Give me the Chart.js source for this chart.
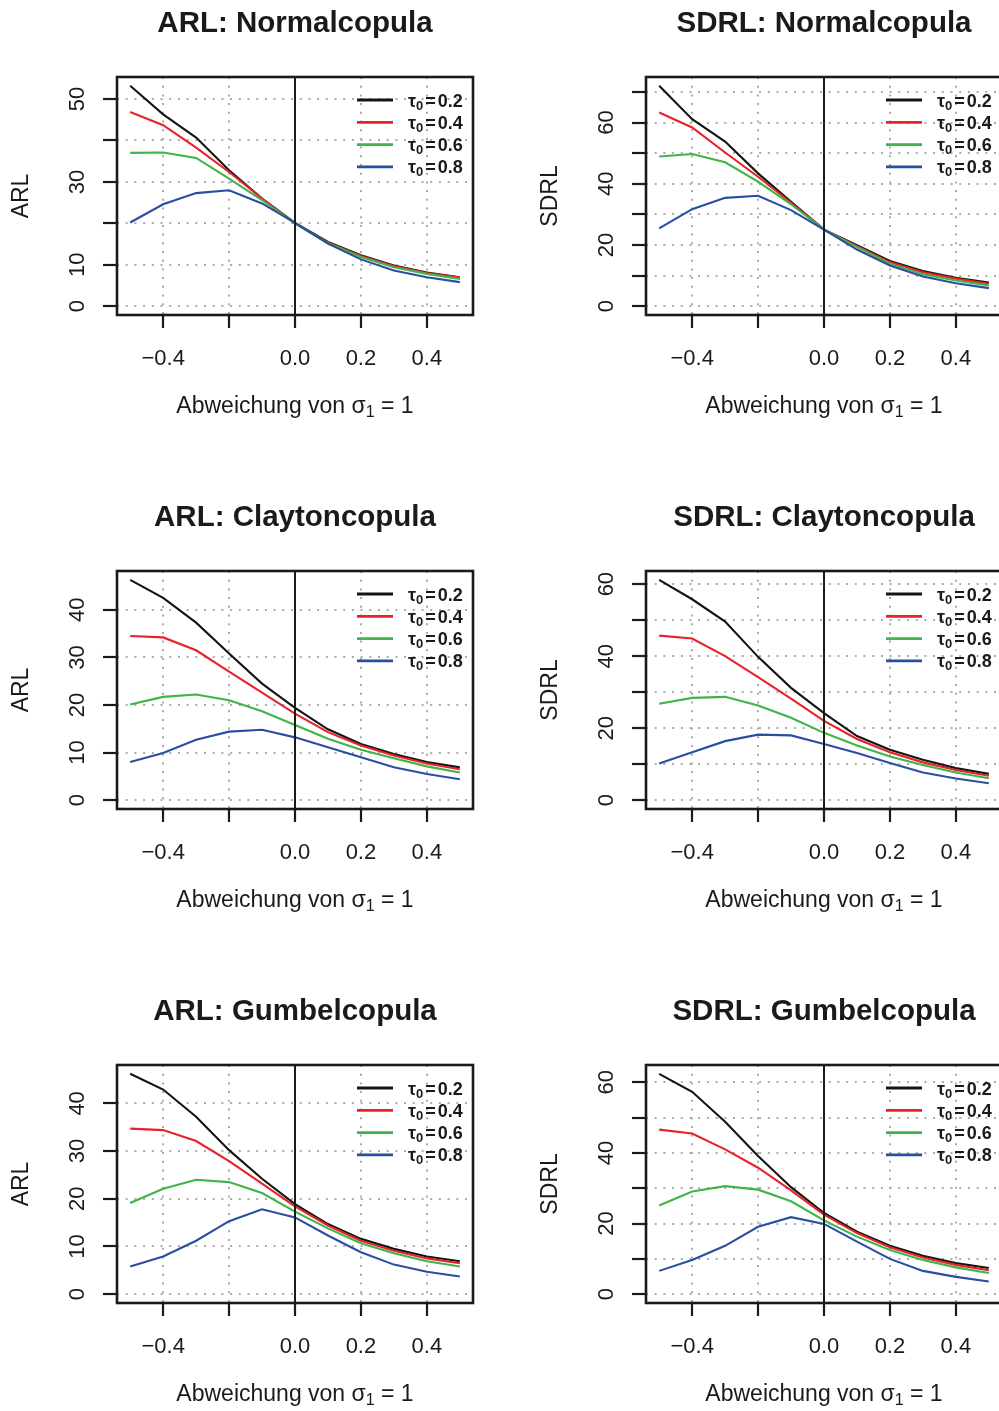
<!DOCTYPE html>
<html>
<head>
<meta charset="utf-8">
<script src="https://cdn.jsdelivr.net/npm/chart.js@4.4.1/dist/chart.umd.min.js"></script>
<style>
html, body { margin: 0; padding: 0; background: #fff; overflow: hidden; }
#page { position: relative; width: 999px; height: 1411px; overflow: hidden; }
#page canvas { position: absolute; }
</style>
</head>
<body>
<div id="page"></div>
<script>
// x positions (deviation from sigma_1 = 1)
const xValues = [-0.5, -0.4, -0.3, -0.2, -0.1, 0, 0.1, 0.2, 0.3, 0.4, 0.5];
const xTicks = [-0.4, -0.2, 0, 0.2, 0.4];
const xTickLabels = ['\u22120.4', '', '0.0', '0.2', '0.4'];
const tauLabels = ['0.2', '0.4', '0.6', '0.8'];
const seriesColors = ['#141414', '#e8212a', '#3eb449', '#2a4ea2'];

// ARL / SDRL, Normal copula
const arlNormal02 = [53.2, 46.3, 40.7, 32.8, 26.0, 20.1, 15.5, 12.3, 9.8, 8.1, 7.0];
const arlNormal04 = [46.9, 43.7, 38.3, 32.4, 26.0, 20.0, 15.3, 12.1, 9.7, 8.0, 6.9];
const arlNormal06 = [37.0, 37.1, 35.8, 30.8, 25.6, 20.0, 15.2, 11.9, 9.4, 7.8, 6.6];
const arlNormal08 = [20.2, 24.6, 27.3, 28.0, 24.8, 20.1, 15.1, 11.3, 8.6, 7.0, 5.8];
const sdrlNormal02 = [72.0, 61.1, 53.8, 43.4, 34.1, 25.0, 19.9, 14.8, 11.5, 9.3, 7.7];
const sdrlNormal04 = [63.3, 58.4, 50.2, 42.3, 33.8, 25.0, 19.6, 14.4, 11.1, 9.0, 7.3];
const sdrlNormal06 = [48.9, 49.7, 47.0, 40.7, 33.3, 25.0, 19.4, 13.9, 10.4, 8.4, 6.8];
const sdrlNormal08 = [25.4, 31.7, 35.4, 36.1, 31.4, 25.0, 18.5, 13.3, 9.7, 7.5, 5.9];

// Clayton copula
const arlClayton02 = [46.3, 42.5, 37.3, 30.8, 24.5, 19.4, 14.9, 11.8, 9.7, 8.0, 6.9];
const arlClayton04 = [34.5, 34.2, 31.5, 27.0, 22.6, 18.2, 14.3, 11.5, 9.4, 7.7, 6.5];
const arlClayton06 = [20.1, 21.7, 22.2, 21.0, 18.7, 15.8, 12.9, 10.6, 8.8, 7.1, 5.8];
const arlClayton08 = [8.0, 9.9, 12.7, 14.4, 14.8, 13.2, 11.1, 9.0, 6.9, 5.5, 4.4];
const sdrlClayton02 = [61.2, 55.8, 49.6, 39.8, 31.2, 24.2, 17.8, 14.0, 11.2, 8.9, 7.3];
const sdrlClayton04 = [45.7, 44.9, 40.0, 34.2, 28.2, 22.0, 17.0, 13.3, 10.5, 8.4, 6.8];
const sdrlClayton06 = [26.8, 28.4, 28.7, 26.3, 22.9, 18.7, 15.2, 12.1, 9.8, 7.7, 6.1];
const sdrlClayton08 = [10.2, 13.3, 16.4, 18.2, 18.0, 15.6, 13.1, 10.3, 7.7, 6.0, 4.7];

// Gumbel copula
const arlGumbel02 = [46.2, 42.9, 37.2, 30.2, 24.2, 18.9, 14.7, 11.6, 9.5, 7.9, 6.9];
const arlGumbel04 = [34.7, 34.4, 32.1, 27.9, 23.2, 18.4, 14.4, 11.2, 9.1, 7.5, 6.5];
const arlGumbel06 = [19.1, 22.1, 24.0, 23.5, 21.2, 17.3, 13.8, 10.7, 8.6, 6.9, 5.8];
const arlGumbel08 = [5.8, 7.9, 11.2, 15.3, 17.8, 16.1, 12.3, 8.8, 6.2, 4.7, 3.7];
const sdrlGumbel02 = [62.4, 57.3, 48.8, 39.1, 30.3, 23.0, 17.7, 13.7, 10.9, 8.8, 7.4];
const sdrlGumbel04 = [46.6, 45.5, 41.0, 35.8, 29.4, 22.5, 17.3, 13.3, 10.4, 8.3, 6.8];
const sdrlGumbel06 = [25.1, 29.1, 30.6, 29.6, 26.3, 20.9, 16.3, 12.5, 9.7, 7.6, 6.0];
const sdrlGumbel08 = [6.6, 9.7, 13.7, 19.1, 21.8, 19.9, 14.9, 10.0, 6.6, 4.9, 3.6];

// y ticks (R drops the labels that would overlap)
const yTicks40 = [0, 10, 20, 30, 40];
const yTicks50 = [0, 10, 20, 30, 40, 50];
const yTicks60 = [0, 10, 20, 30, 40, 50, 60];
const yTicks70 = [0, 10, 20, 30, 40, 50, 60, 70];
const yLabels40 = ['0', '10', '20', '30', '40'];
const yLabels50 = ['0', '10', '', '30', '', '50'];
const yLabels60 = ['0', '', '20', '', '40', '', '60'];
const yLabels70 = ['0', '', '20', '', '40', '', '60', ''];

const panels = [
  { title: 'ARL: Normalcopula', ylab: 'ARL', row: 0, col: 0, yTicks: yTicks50, yLabels: yLabels50,
    series: [arlNormal02, arlNormal04, arlNormal06, arlNormal08] },
  { title: 'SDRL: Normalcopula', ylab: 'SDRL', row: 0, col: 1, yTicks: yTicks70, yLabels: yLabels70,
    series: [sdrlNormal02, sdrlNormal04, sdrlNormal06, sdrlNormal08] },
  { title: 'ARL: Claytoncopula', ylab: 'ARL', row: 1, col: 0, yTicks: yTicks40, yLabels: yLabels40,
    series: [arlClayton02, arlClayton04, arlClayton06, arlClayton08] },
  { title: 'SDRL: Claytoncopula', ylab: 'SDRL', row: 1, col: 1, yTicks: yTicks60, yLabels: yLabels60,
    series: [sdrlClayton02, sdrlClayton04, sdrlClayton06, sdrlClayton08] },
  { title: 'ARL: Gumbelcopula', ylab: 'ARL', row: 2, col: 0, yTicks: yTicks40, yLabels: yLabels40,
    series: [arlGumbel02, arlGumbel04, arlGumbel06, arlGumbel08] },
  { title: 'SDRL: Gumbelcopula', ylab: 'SDRL', row: 2, col: 1, yTicks: yTicks60, yLabels: yLabels60,
    series: [sdrlGumbel02, sdrlGumbel04, sdrlGumbel06, sdrlGumbel08] }
];

const FONT = '"Liberation Sans", Arial, Helvetica, sans-serif';
const INK = '#1a1a1a';
const CELL_W = 529, CELL_H = 494;

function seg(ctx, x0, y0, x1, y1) {
  ctx.beginPath();
  ctx.moveTo(x0, y0);
  ctx.lineTo(x1, y1);
  ctx.stroke();
}

// R style frame: dotted grid, box, outside ticks, labels, legend
function makeFrame(p) {
  return {
    id: 'rFrame',
    beforeDatasetsDraw(chart) {
      const { ctx, chartArea: a, scales: { x, y } } = chart;
      ctx.save();
      ctx.strokeStyle = '#ababab';
      ctx.lineWidth = 2;
      ctx.setLineDash([2, 6.7]);
      xTicks.forEach(v => {
        const px = Math.round(x.getPixelForValue(v));
        seg(ctx, px, a.top, px, a.bottom);
      });
      p.yTicks.forEach(v => {
        const py = Math.round(y.getPixelForValue(v));
        seg(ctx, a.left, py, a.right, py);
      });
      ctx.restore();
    },
    afterDatasetsDraw(chart) {
      const { ctx, chartArea: a, scales: { x, y } } = chart;
      const cx = (a.left + a.right) / 2;
      const cy = (a.top + a.bottom) / 2;
      ctx.save();
      ctx.strokeStyle = INK;
      ctx.lineWidth = 2;
      ctx.lineCap = 'butt';

      // vertical reference line at 0
      const x0 = Math.round(x.getPixelForValue(0));
      seg(ctx, x0, a.top, x0, a.bottom);

      // box
      ctx.lineWidth = 2.6;
      ctx.strokeRect(a.left, a.top, a.right - a.left, a.bottom - a.top);

      // ticks
      ctx.lineWidth = 2.2;
      xTicks.forEach(v => {
        const px = Math.round(x.getPixelForValue(v));
        seg(ctx, px, a.bottom, px, a.bottom + 13);
      });
      p.yTicks.forEach(v => {
        const py = Math.round(y.getPixelForValue(v));
        seg(ctx, a.left, py, a.left - 14, py);
      });

      ctx.fillStyle = INK;
      // x tick labels
      ctx.font = '22px ' + FONT;
      ctx.textAlign = 'center';
      ctx.textBaseline = 'alphabetic';
      xTicks.forEach((v, i) => {
        if (xTickLabels[i]) ctx.fillText(xTickLabels[i], x.getPixelForValue(v), a.bottom + 50);
      });
      // y tick labels, parallel to the axis
      p.yTicks.forEach((v, i) => {
        if (!p.yLabels[i]) return;
        ctx.save();
        ctx.translate(a.left - 33, y.getPixelForValue(v));
        ctx.rotate(-Math.PI / 2);
        ctx.fillText(p.yLabels[i], 0, 0);
        ctx.restore();
      });
      // y axis title
      ctx.save();
      ctx.font = '23px ' + FONT;
      ctx.translate(a.left - 89, cy);
      ctx.rotate(-Math.PI / 2);
      ctx.fillText(p.ylab, 0, 0);
      ctx.restore();

      // main title
      ctx.font = 'bold 29.5px ' + FONT;
      ctx.fillText(p.title, cx, a.top - 45);

      // x axis title with subscript
      ctx.textAlign = 'left';
      const big = '23px ' + FONT, small = '16px ' + FONT;
      ctx.font = big;
      const part1 = 'Abweichung von \u03c3', part3 = ' = 1';
      const w1 = ctx.measureText(part1).width;
      const w3 = ctx.measureText(part3).width;
      ctx.font = small;
      const w2 = ctx.measureText('1').width;
      const tx = cx - (w1 + w2 + w3) / 2;
      const by = a.bottom + 98;
      ctx.font = big;
      ctx.fillText(part1, tx, by);
      ctx.font = small;
      ctx.fillText('1', tx + w1, by + 4);
      ctx.font = big;
      ctx.fillText(part3, tx + w1 + w2, by);

      // legend
      const lx0 = a.right - 116, lx1 = a.right - 80, lt = a.right - 65;
      tauLabels.forEach((lab, i) => {
        const yy = a.top + 23 + i * 22.3;
        ctx.strokeStyle = seriesColors[i];
        ctx.lineWidth = 2.8;
        seg(ctx, lx0, yy, lx1, yy);
        const base = yy + 6.5;
        ctx.fillStyle = INK;
        ctx.font = 'bold 18px ' + FONT;
        ctx.fillText('\u03c4', lt, base);
        let px = lt + ctx.measureText('\u03c4').width;
        ctx.font = 'bold 13px ' + FONT;
        ctx.fillText('0', px, base + 3);
        px += ctx.measureText('0').width + 2;
        ctx.font = 'bold 18px ' + FONT;
        ctx.fillText('=', px, base);
        px += ctx.measureText('=').width + 2;
        ctx.fillText(lab, px, base);
      });
      ctx.restore();
    }
  };
}

const page = document.getElementById('page');
panels.forEach(p => {
  const canvas = document.createElement('canvas');
  canvas.width = CELL_W;
  canvas.height = CELL_H;
  canvas.style.width = CELL_W + 'px';
  canvas.style.height = CELL_H + 'px';
  canvas.style.left = (p.col * CELL_W) + 'px';
  canvas.style.top = (p.row * CELL_H) + 'px';
  page.appendChild(canvas);

  let m = 0;
  p.series.forEach(s => s.forEach(v => { if (v > m) m = v; }));

  new Chart(canvas, {
    type: 'line',
    data: {
      datasets: p.series.map((s, i) => ({
        label: 'tau0 = ' + tauLabels[i],
        data: xValues.map((xv, j) => ({ x: xv, y: s[j] })),
        borderColor: seriesColors[i],
        borderWidth: 2.1,
        pointRadius: 0,
        tension: 0,
        fill: false,
        order: 3 - i
      }))
    },
    options: {
      responsive: false,
      animation: false,
      devicePixelRatio: 1,
      layout: { padding: { left: 117, top: 77, right: 56, bottom: 179 } },
      scales: {
        x: { type: 'linear', min: -0.54, max: 0.54, display: false },
        y: { type: 'linear', min: -0.04 * m, max: 1.04 * m, display: false }
      },
      plugins: { legend: { display: false }, tooltip: { enabled: false } }
    },
    plugins: [makeFrame(p)]
  });
});
</script>
</body>
</html>
